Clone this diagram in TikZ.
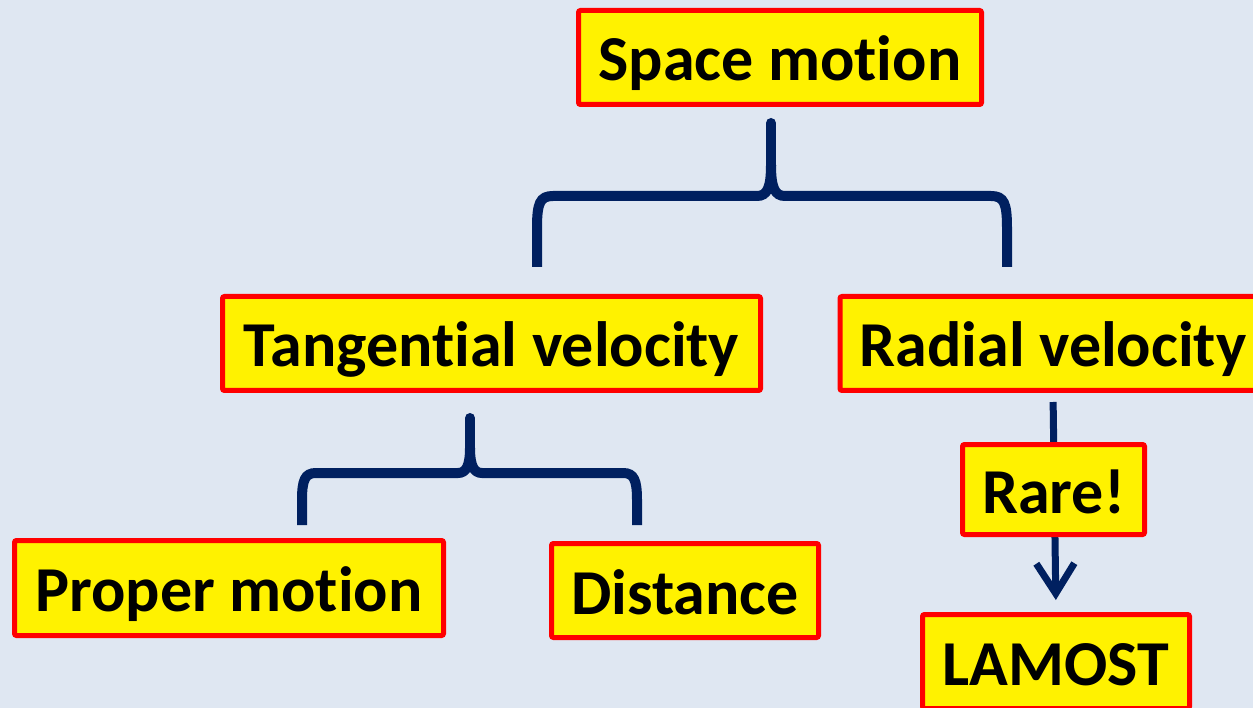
\documentclass[tikz,border=0pt]{standalone}
\usepackage{fontspec}
\setmainfont{Carlito}[Ligatures=NoCommon]
\usetikzlibrary{arrows.meta}
\definecolor{bg}{RGB}{223,231,242}
\definecolor{navy}{RGB}{0,32,96}
\begin{document}
\begin{tikzpicture}[x=1pt,y=-1pt,
  box/.style={draw=red,fill=yellow,line width=5pt,rounded corners=2pt,inner sep=0pt,
    text height=51pt,text depth=4pt,
    font=\fontsize{64}{70}\selectfont\bfseries},
  brace/.style={draw=navy,line width=10pt},
  tip/.style={draw=navy,line width=10pt,line cap=round},
  arrowline/.style={draw=navy,line width=7pt,-{Straight Barb[length=30pt,width=38pt,line width=7pt]}},
]
\fill[bg] (0,0) rectangle (1253,708);
\useasboundingbox (0,0) rectangle (1253,708);
\clip (0,0) rectangle (1253,708);

\node[box,minimum width=403pt,minimum height=94pt] (space) at (780,57.5) {Space motion};
\node[box,minimum width=538pt,minimum height=94pt] (tang) at (491.5,343.5) {Tangential velocity};
\node[box,minimum width=426pt,minimum height=94pt] (radial) at (1053,343.5) {Radial velocity};
\node[box,minimum width=429pt,minimum height=95pt] (proper) at (229,588) {Proper motion};
\node[box,minimum width=267pt,minimum height=94pt] (dist) at (685,590.5) {Distance};
\node[box,minimum width=267pt,minimum height=94pt] (lamost) at (1056,661.5) {LAMOST};

% arrow behind the Rare! box
\draw[arrowline,shorten <=9pt,shorten >=12pt] (radial.south) -- (lamost.north);
\node[box,minimum width=182pt,minimum height=90pt] (rare) at (1053.5,489.5) {Rare!};

% brace from Space motion to the two velocities
\coordinate (t1) at (771,123);
\coordinate (j1) at (771,165);
\draw[tip] (t1) -- (j1);
\draw[brace] (j1) .. controls (771,188) and (767,196) .. (757,196) -- (553,196)
  .. controls (540,196) and (537,203) .. (537,228) -- (537,267);
\draw[brace] (j1) .. controls (771,188) and (775,196) .. (785,196) -- (991,196)
  .. controls (1004,196) and (1007,203) .. (1007,228) -- (1007,267);

% brace from Tangential velocity to proper motion and distance
\coordinate (t2) at (470,418);
\coordinate (j2) at (470,448);
\draw[tip] (t2) -- (j2);
\draw[brace] (j2) .. controls (470,466) and (466,473) .. (458,473) -- (316,473)
  .. controls (305,473) and (302,480) .. (302,500) -- (302,525);
\draw[brace] (j2) .. controls (470,466) and (474,473) .. (482,473) -- (623,473)
  .. controls (634,473) and (637,480) .. (637,500) -- (637,525);
\end{tikzpicture}
\end{document}
